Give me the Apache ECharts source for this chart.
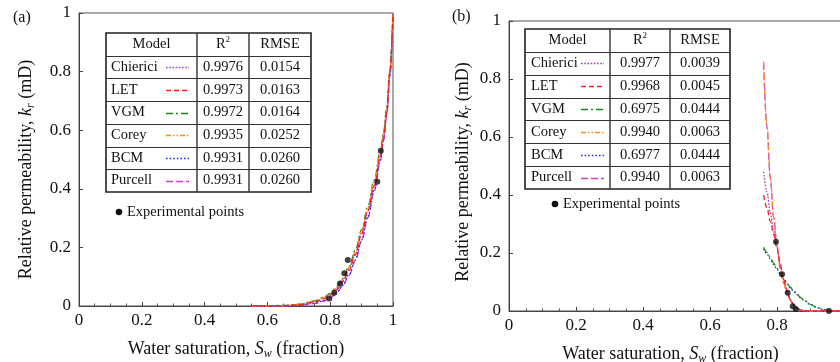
<!DOCTYPE html>
<html>
<head>
<meta charset="utf-8">
<script src="https://cdn.jsdelivr.net/npm/echarts@6/dist/echarts.min.js"></script>
<style>
  html, body { margin: 0; padding: 0; background: #fff; overflow: hidden; }
  #chart { width: 848px; height: 362px; }
</style>
</head>
<body>
<div id="chart"></div>
<script>
// ---- data -----------------------------------------------------------------
const modelNames = ['Chierici', 'LET', 'VGM', 'Corey', 'BCM', 'Purcell'];

// panel (a): fit statistics
const r2A   = ['0.9976', '0.9973', '0.9972', '0.9935', '0.9931', '0.9931'];
const rmseA = ['0.0154', '0.0163', '0.0164', '0.0252', '0.0260', '0.0260'];
// panel (b): fit statistics
const r2B   = ['0.9977', '0.9968', '0.6975', '0.9940', '0.6977', '0.9940'];
const rmseB = ['0.0039', '0.0045', '0.0444', '0.0063', '0.0444', '0.0063'];

// panel (a): water saturation samples and model curves
const swA = [0.55, 0.60, 0.65, 0.70, 0.75, 0.78, 0.80, 0.82, 0.84, 0.86, 0.88, 0.90, 0.92, 0.94, 0.96, 0.97, 0.98, 0.99, 1.00];
const chiericiA = [0, 0, 0.001, 0.004, 0.014, 0.026, 0.038, 0.058, 0.086, 0.125, 0.178, 0.248, 0.326, 0.410, 0.510, 0.570, 0.650, 0.780, 1.0];
const letA      = [0, 0, 0.001, 0.004, 0.013, 0.024, 0.036, 0.055, 0.083, 0.122, 0.175, 0.245, 0.325, 0.410, 0.510, 0.575, 0.660, 0.800, 1.0];
const vgmA      = [0, 0.001, 0.002, 0.006, 0.017, 0.030, 0.043, 0.064, 0.094, 0.135, 0.190, 0.260, 0.340, 0.430, 0.530, 0.595, 0.680, 0.800, 1.0];
const coreyA    = [0, 0, 0.001, 0.005, 0.016, 0.029, 0.041, 0.062, 0.091, 0.132, 0.186, 0.256, 0.336, 0.425, 0.525, 0.590, 0.675, 0.800, 1.0];
const bcmA      = [0, 0, 0, 0.002, 0.009, 0.018, 0.028, 0.045, 0.071, 0.107, 0.157, 0.225, 0.305, 0.395, 0.500, 0.570, 0.660, 0.790, 1.0];
const purcellA  = [0, 0, 0, 0.002, 0.008, 0.017, 0.027, 0.044, 0.069, 0.105, 0.155, 0.222, 0.302, 0.392, 0.495, 0.565, 0.655, 0.785, 1.0];
const pointsSwA = [0.797, 0.813, 0.831, 0.845, 0.856, 0.950, 0.961];
const pointsKrA = [0.026, 0.045, 0.077, 0.112, 0.157, 0.424, 0.530];

// panel (b): water saturation samples and model curves
const swB = [0.76, 0.77, 0.78, 0.79, 0.80, 0.81, 0.82, 0.83, 0.84, 0.85, 0.86, 0.87, 0.88, 0.90, 0.92, 0.94, 0.96, 0.98, 1.00];
const chiericiB = [0.48, 0.41, 0.34, 0.275, 0.220, 0.158, 0.108, 0.070, 0.040, 0.020, 0.009, 0.004, 0.001, 0, 0, 0, 0, 0, 0];
const letB      = [0.40, 0.355, 0.31, 0.265, 0.215, 0.158, 0.108, 0.070, 0.040, 0.020, 0.009, 0.004, 0.001, 0, 0, 0, 0, 0, 0];
const vgmB      = [0.22, 0.202, 0.185, 0.165, 0.147, 0.129, 0.112, 0.096, 0.082, 0.069, 0.058, 0.047, 0.038, 0.023, 0.012, 0.005, 0.001, 0, 0];
const coreyB    = [0.86, 0.64, 0.46, 0.325, 0.225, 0.148, 0.097, 0.062, 0.037, 0.020, 0.009, 0.004, 0.001, 0, 0, 0, 0, 0, 0];
const bcmB      = [0.215, 0.197, 0.180, 0.161, 0.143, 0.126, 0.110, 0.094, 0.080, 0.067, 0.056, 0.046, 0.037, 0.022, 0.011, 0.004, 0.001, 0, 0];
const purcellB  = [0.855, 0.635, 0.458, 0.323, 0.224, 0.147, 0.096, 0.061, 0.036, 0.019, 0.009, 0.004, 0.001, 0, 0, 0, 0, 0, 0];
const pointsSwB = [0.797, 0.815, 0.832, 0.847, 0.856, 0.955];
const pointsKrB = [0.239, 0.127, 0.063, 0.016, 0.007, 0.0];

// ---- styles ---------------------------------------------------------------
const FONT = '"Liberation Serif", "Times New Roman", serif';
const modelStyle = {
  Chierici: { color: '#a43fc4', dash: [1.6, 1.6] },
  LET:      { color: '#ff1a1a', dash: [5, 3] },
  VGM:      { color: '#14891a', dash: [7, 3, 2, 3] },
  Corey:    { color: '#ff8c1a', dash: [5, 2, 1.5, 2, 1.5, 2] },
  BCM:      { color: '#2a2aff', dash: [1.6, 2] },
  Purcell:  { color: '#d43ad4', dash: [7, 3] }
};
// drawing order of the curves (later ones sit on top)
const drawOrder = ['Purcell', 'BCM', 'VGM', 'Chierici', 'Corey', 'LET'];
const curvesA = { Chierici: chiericiA, LET: letA, VGM: vgmA, Corey: coreyA, BCM: bcmA, Purcell: purcellA };
const curvesB = { Chierici: chiericiB, LET: letB, VGM: vgmB, Corey: coreyB, BCM: bcmB, Purcell: purcellB };

const pair = (xs, ys) => xs.map((x, i) => [x, ys[i]]);

const richTitle = {
  n:   { fontFamily: FONT, fontSize: 18, color: '#111', lineHeight: 22, verticalAlign: 'middle' },
  it:  { fontFamily: FONT, fontSize: 18, color: '#111', fontStyle: 'italic', lineHeight: 22, verticalAlign: 'middle' },
  sub: { fontFamily: FONT, fontSize: 12, color: '#111', fontStyle: 'italic', lineHeight: 22, verticalAlign: 'bottom' }
};

function xAxisFor(gridIndex, pad) {
  return {
    type: 'value', gridIndex, min: 0, max: 1, interval: 0.2,
    name: '{n|Water saturation, }{it|S}{sub|w}{n| (fraction)}',
    nameLocation: 'middle', nameGap: 32,
    nameTextStyle: { rich: richTitle, padding: pad },
    axisLine: { show: true, onZero: false, lineStyle: { color: '#444', width: 1 } },
    axisTick: { show: true, inside: true, length: 4, lineStyle: { color: '#444' } },
    minorTick: { show: true, splitNumber: 4, length: 2.5, lineStyle: { color: '#555' } },
    splitLine: { show: false },
    axisLabel: {
      fontFamily: FONT, fontSize: 17, color: '#111', margin: 6,
      formatter: v => String(+v.toFixed(1))
    }
  };
}
function yAxisFor(gridIndex, gap, pad) {
  return {
    type: 'value', gridIndex, min: 0, max: 1, interval: 0.2,
    name: '{n|Relative permeability, }{it|k}{sub|r}{n| (mD)}',
    nameLocation: 'middle', nameRotate: 90, nameGap: gap,
    nameTextStyle: { rich: richTitle, padding: pad },
    axisLine: { show: true, onZero: false, lineStyle: { color: '#444', width: 1 } },
    axisTick: { show: true, inside: true, length: 4, lineStyle: { color: '#444' } },
    splitLine: { show: false },
    axisLabel: {
      fontFamily: FONT, fontSize: 17, color: '#111', margin: 8,
      formatter: v => String(+v.toFixed(1))
    }
  };
}

function modelSeries(curves, sw, axisIndex) {
  return drawOrder.map((name, k) => ({
    type: 'line', name, xAxisIndex: axisIndex, yAxisIndex: axisIndex,
    data: pair(sw, curves[name]),
    smooth: 0.35, smoothMonotone: 'x', showSymbol: false, silent: true,
    lineStyle: { color: modelStyle[name].color, width: 1.3, type: modelStyle[name].dash },
    z: 3 + k * 0.1
  }));
}
function pointSeries(xs, ys, axisIndex) {
  return {
    type: 'scatter', name: 'Experimental points', xAxisIndex: axisIndex, yAxisIndex: axisIndex,
    data: pair(xs, ys), symbol: 'circle', symbolSize: 6,
    itemStyle: { color: '#111' }, z: 5, silent: true
  };
}

// fit-statistics table drawn with graphic elements
function table(box, r2, rmse) {
  const els = [];
  const { left, top, right, bottom, c1, c2, textX, lineX1, lineX2 } = box;
  const rowH = (bottom - top) / 7;
  els.push({ type: 'rect', shape: { x: left, y: top, width: right - left, height: bottom - top },
    style: { fill: '#fff', stroke: '#222', lineWidth: 1.6 }, z: 10 });
  for (let r = 1; r < 7; r++) {
    const y = Math.round(top + r * rowH) + 0.5;
    els.push({ type: 'line', shape: { x1: left, y1: y, x2: right, y2: y },
      style: { stroke: '#333', lineWidth: 1.2 }, z: 11 });
  }
  [c1, c2].forEach(x => els.push({ type: 'line', shape: { x1: x, y1: top, x2: x, y2: bottom },
    style: { stroke: '#333', lineWidth: 1.4 }, z: 11 }));
  const txt = (x, y, text, align, rich) => ({
    type: 'text', x, y, z: 12,
    style: { text, font: '14.5px ' + FONT, fill: '#111', align, verticalAlign: 'middle', rich }
  });
  const hy = top + rowH / 2;
  els.push(txt((left + c1) / 2, hy, 'Model', 'center'));
  els.push(txt((c1 + c2) / 2, hy, '{n|R}{sup|2}', 'center', {
    n: { fontFamily: FONT, fontSize: 14.5, color: '#111', lineHeight: 18, verticalAlign: 'middle' },
    sup: { fontFamily: FONT, fontSize: 9, color: '#111', lineHeight: 18, verticalAlign: 'top' }
  }));
  els.push(txt((c2 + right) / 2, hy, 'RMSE', 'center'));
  modelNames.forEach((name, i) => {
    const y = top + (i + 1.5) * rowH;
    els.push(txt(textX, y, name, 'left'));
    els.push(txt((c1 + c2) / 2, y, r2[i], 'center'));
    els.push(txt((c2 + right) / 2, y, rmse[i], 'center'));
    els.push({ type: 'line', z: 12,
      shape: { x1: lineX1, y1: Math.round(y) + 0.5, x2: lineX2, y2: Math.round(y) + 0.5 },
      style: { stroke: modelStyle[name].color, lineWidth: 1.4, lineDash: modelStyle[name].dash } });
  });
  return els;
}
function pointsKey(cx, cy) {
  return [
    { type: 'circle', shape: { cx, cy, r: 3.3 }, style: { fill: '#111' }, z: 12 },
    { type: 'text', x: cx + 8, y: cy, z: 12,
      style: { text: 'Experimental points', font: '14.5px ' + FONT, fill: '#111', verticalAlign: 'middle' } }
  ];
}

const chart = echarts.init(document.getElementById('chart'), null, { renderer: 'canvas' });
chart.setOption({
  backgroundColor: '#fff',
  animation: false,
  grid: [
    { left: 79, top: 13, width: 314, height: 293, outerBoundsMode: 'none', containLabel: false,
      show: true, borderColor: '#555', borderWidth: 1, backgroundColor: 'transparent' },
    { left: 509, top: 21, width: 335, height: 290, outerBoundsMode: 'none', containLabel: false,
      show: true, borderColor: '#555', borderWidth: 1, backgroundColor: 'transparent' }
  ],
  xAxis: [xAxisFor(0, [0, 0, 0, 0]), xAxisFor(1, [0, 12, 0, 0])],
  yAxis: [yAxisFor(0, 42, [0, 20, 0, 0]), yAxisFor(1, 35, [0, 12, 0, 0])],
  series: [
    ...modelSeries(curvesA, swA, 0),
    pointSeries(pointsSwA, pointsKrA, 0),
    ...modelSeries(curvesB, swB, 1),
    pointSeries(pointsSwB, pointsKrB, 1)
  ],
  graphic: [
    { type: 'text', x: 13, y: 18, style: { text: '(a)', font: '16px ' + FONT, fill: '#111', verticalAlign: 'middle' } },
    { type: 'text', x: 452, y: 17, style: { text: '(b)', font: '16px ' + FONT, fill: '#111', verticalAlign: 'middle' } },
    ...table({ left: 106, top: 33, right: 311, bottom: 192, c1: 197, c2: 249, textX: 111, lineX1: 166, lineX2: 189 }, r2A, rmseA),
    ...table({ left: 525, top: 29, right: 730, bottom: 189, c1: 610, c2: 670, textX: 531, lineX1: 581, lineX2: 604 }, r2B, rmseB),
    ...pointsKey(119, 212),
    ...pointsKey(555, 204)
  ]
});
</script>
</body>
</html>
